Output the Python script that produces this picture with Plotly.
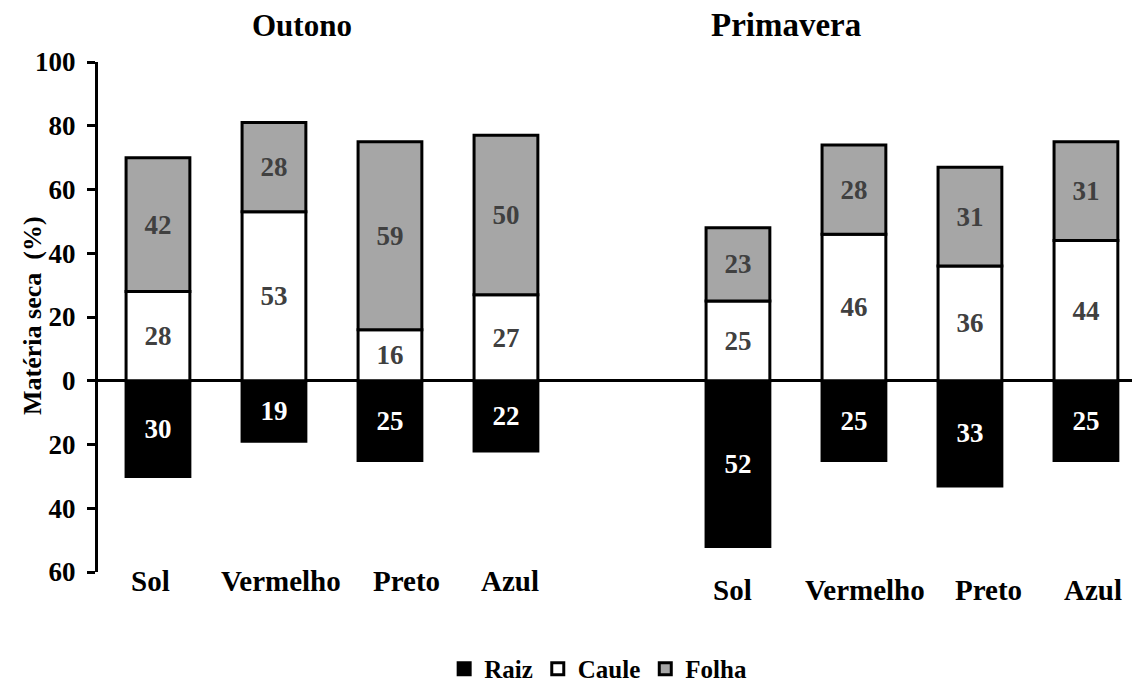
import plotly.graph_objects as go

categories = ["Sol", "Vermelho", "Preto", "Azul"]
seasons = ["Outono", "Primavera"]
x_pos_outono = [0, 1, 2, 3]
x_pos_primavera = [5, 6, 7, 8]

raiz_outono = [30, 19, 25, 22]
caule_outono = [28, 53, 16, 27]
folha_outono = [42, 28, 59, 50]

raiz_primavera = [52, 25, 33, 25]
caule_primavera = [25, 46, 36, 44]
folha_primavera = [23, 28, 31, 31]

tick_vals = [-60, -40, -20, 0, 20, 40, 60, 80, 100]
tick_text = ["60", "40", "20", "0", "20", "40", "60", "80", "100"]
y_title = "Matéria seca  (%)"

FONT = "Times New Roman, Liberation Serif, serif"
x_all = x_pos_outono + x_pos_primavera
raiz = raiz_outono + raiz_primavera
caule = caule_outono + caule_primavera
folha = folha_outono + folha_primavera

fig = go.Figure()

def add(name, vals, fill, txtcolor, negative=False):
    y = [-v for v in vals] if negative else vals
    fig.add_trace(go.Bar(
        name=f"<b>{name}</b>", x=x_all, y=y, width=0.55,
        marker=dict(color=fill, line=dict(color="black", width=3)),
        text=[f"<b>{v}</b>" for v in vals], textposition="inside",
        insidetextanchor="middle", textangle=0, constraintext="none",
        textfont=dict(family=FONT, size=27, color=txtcolor),
        hoverinfo="skip",
    ))

add("Raiz", raiz, "black", "white", negative=True)
add("Caule", caule, "white", "#404040")
add("Folha", folha, "#a6a6a6", "#404040")

# label nudges (pixels) to mimic the reference placement
shift_outono = [-7, 7, 17, 4]
shift_primavera = [-5, 11, 19, 7]

annotations = []
for i, c in enumerate(categories):
    annotations.append(dict(x=x_pos_outono[i], y=-0.018, xref="x", yref="paper",
                            xshift=shift_outono[i],
                            text=f"<b>{c}</b>", showarrow=False, yanchor="middle",
                            font=dict(family=FONT, size=29, color="black")))
    annotations.append(dict(x=x_pos_primavera[i], y=-0.035, xref="x", yref="paper",
                            xshift=shift_primavera[i],
                            text=f"<b>{c}</b>", showarrow=False, yanchor="middle",
                            font=dict(family=FONT, size=29, color="black")))
annotations.append(dict(x=1.24, y=1.0725, xref="x", yref="paper", text=f"<b>{seasons[0]}</b>",
                        showarrow=False, yanchor="middle",
                        font=dict(family=FONT, size=31, color="black")))
annotations.append(dict(x=5.41, y=1.0725, xref="x", yref="paper", text=f"<b>{seasons[1]}</b>",
                        showarrow=False, yanchor="middle",
                        font=dict(family=FONT, size=33, color="black")))
annotations.append(dict(x=-0.0624, y=0.504, xref="paper", yref="paper", text=f"<b>{y_title}</b>",
                        textangle=-90, showarrow=False, xanchor="center", yanchor="middle",
                        font=dict(family=FONT, size=26, color="black")))

# the page body has an 8px margin, so the figure is 8px smaller on each side
fig.update_layout(
    barmode="relative",
    width=1132, height=676,
    margin=dict(l=90, r=0, t=54, b=112, autoexpand=False),
    paper_bgcolor="white", plot_bgcolor="white",
    font=dict(family=FONT, color="black"),
    showlegend=True,
    legend=dict(orientation="h", x=0.48, xanchor="center", y=-0.19, yanchor="middle",
                font=dict(family=FONT, size=25, color="black"), traceorder="normal",
                itemwidth=30),
    annotations=annotations,
    xaxis=dict(range=[-0.517, 8.466], showticklabels=False, showgrid=False,
               zeroline=False, showline=False, ticks="", automargin=False),
    yaxis=dict(range=[-60, 100], tickvals=tick_vals, automargin=False,
               ticktext=[f"<b>{t}</b>" for t in tick_text],
               tickfont=dict(family=FONT, size=27, color="black"),
               ticklabelstandoff=6,
               showgrid=False, showline=True, linecolor="black", linewidth=3,
               ticks="outside", ticklen=8, tickwidth=3, tickcolor="black",
               zeroline=True, zerolinecolor="black", zerolinewidth=3),
)

fig.write_html("out.html")
